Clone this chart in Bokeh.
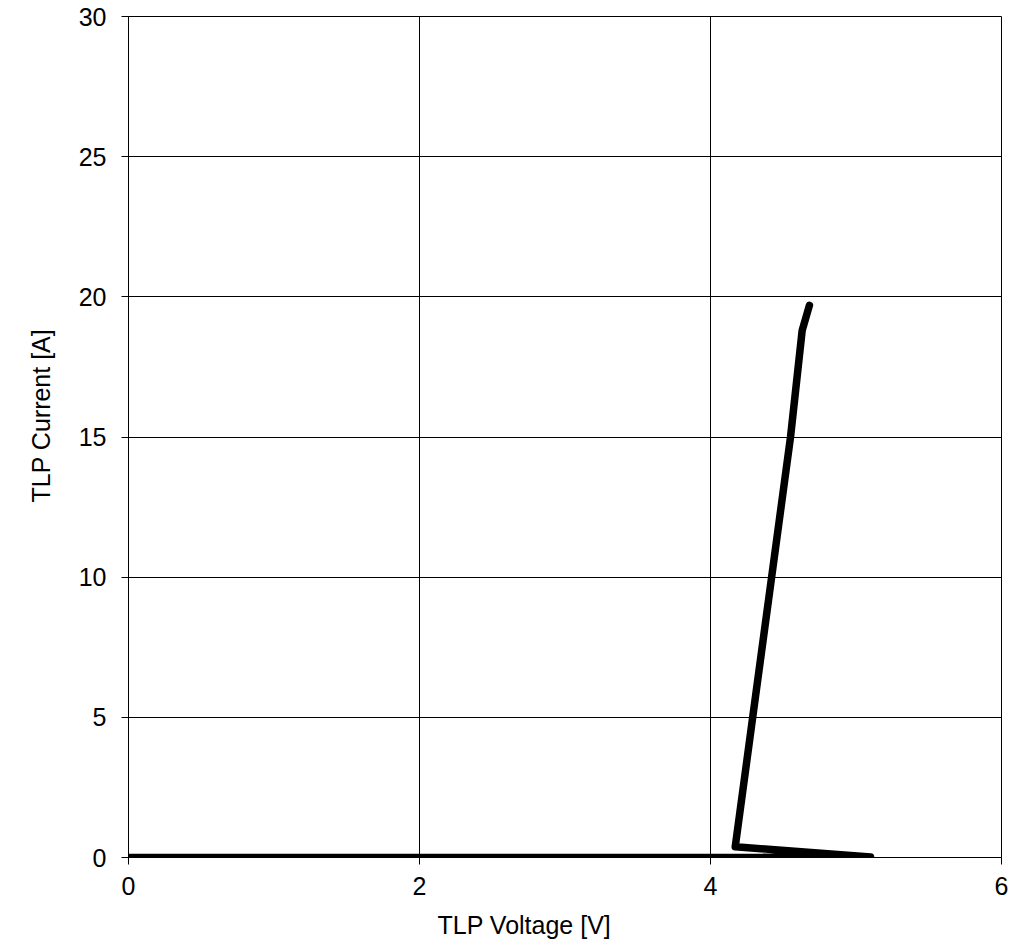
from bokeh.plotting import figure
from bokeh.models import Title, Range1d, FixedTicker
from bokeh.embed import file_html
from bokeh.resources import INLINE

voltage = [0.0, 1.0, 2.0, 3.0, 4.0, 4.6, 5.1, 4.17, 4.29, 4.42, 4.55, 4.63, 4.68]
current = [0.0, 0.0, 0.0, 0.0, 0.0, 0.01, 0.02, 0.38, 5.0, 10.0, 15.0, 18.8, 19.7]

x_ticks = [0, 2, 4, 6]
y_ticks = [0, 5, 10, 15, 20, 25, 30]

LEFT, RIGHT, TOP, BOTTOM = 128, 23, 16, 93
W, H = LEFT + 873 + RIGHT, TOP + 841 + BOTTOM
p = figure(width=W, height=H, output_backend="svg", toolbar_location=None,
           x_range=Range1d(0, 6), y_range=Range1d(0, 30),
           frame_width=873, frame_height=841,
           min_border_left=LEFT, min_border_right=RIGHT, min_border_top=TOP,
           min_border_bottom=BOTTOM)
p.outline_line_color = "black"
p.outline_line_width = 1
p.background_fill_color = "white"
p.border_fill_color = "white"

font = "Liberation Sans"
FS = "25px"
for ax in (p.xaxis[0], p.yaxis[0]):
    ax.axis_line_color = "black"
    ax.major_tick_line_color = "black"
    ax.minor_tick_line_color = None
    ax.major_tick_out = 7
    ax.major_tick_in = 0
    ax.major_label_text_font = font
    ax.major_label_text_font_size = FS
    ax.major_label_text_color = "black"
p.xaxis.ticker = FixedTicker(ticks=x_ticks)
p.yaxis.ticker = FixedTicker(ticks=y_ticks)
p.xaxis.major_label_standoff = 12
p.yaxis.major_label_standoff = 15

p.xgrid.ticker = FixedTicker(ticks=x_ticks)
p.ygrid.ticker = FixedTicker(ticks=y_ticks)
p.xgrid.grid_line_color = "black"
p.ygrid.grid_line_color = "black"
p.xgrid.grid_line_width = 1
p.ygrid.grid_line_width = 1

p.line(voltage, current, line_color="black", line_width=7.5,
       line_join="round", line_cap="round")

# axis titles (offset from the frame's left / bottom edge)
p.add_layout(Title(text="TLP Voltage [V]", align="left", offset=437 - LEFT, standoff=23,
                   text_font=font, text_font_size=FS, text_font_style="normal",
                   text_color="black"), "below")
p.add_layout(Title(text="TLP Current [A]", align="left", offset=(TOP + 841) - 502, standoff=42,
                   text_font=font, text_font_size=FS, text_font_style="normal",
                   text_color="black"), "left")

open("out.html", "w").write(file_html(p, INLINE))
